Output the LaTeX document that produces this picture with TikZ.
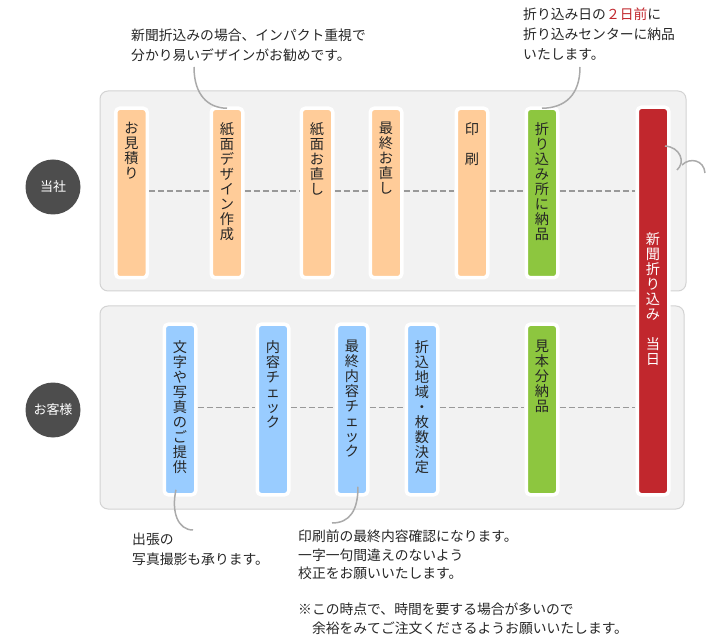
\documentclass[tikz,border=0pt]{standalone}
\usepackage{fontspec}
\setmainfont{Noto Sans CJK JP}
\definecolor{panelfill}{HTML}{F2F2F2}
\definecolor{panelline}{HTML}{D3D3D3}
\definecolor{orangebox}{HTML}{FFCC99}
\definecolor{bluebox}{HTML}{99CCFF}
\definecolor{greenbox}{HTML}{8DC63F}
\definecolor{redbox}{HTML}{C1272D}
\definecolor{circ}{HTML}{4D4D4D}
\definecolor{dashc}{HTML}{999999}
\definecolor{curvec}{HTML}{AAAAAA}
\definecolor{txt}{HTML}{262626}
\begin{document}
\begin{tikzpicture}[x=1pt,y=-1pt,
  panel/.style={fill=panelfill, draw=panelline, line width=1pt, rounded corners=8pt},
  stepbox/.style={rectangle, rounded corners=4pt, draw=white, line width=3.5pt, minimum width=31.5pt, inner sep=0pt, outer sep=0pt},
  topbox/.style={stepbox, minimum height=169.5pt},
  botbox/.style={stepbox, minimum height=170.5pt},
  vlabel/.style={anchor=north, inner sep=0pt, align=center, text=txt, font=\fontsize{14.2}{15}\selectfont},
  note/.style={anchor=north west, inner sep=0pt, align=left, text=txt, font=\fontsize{13.8}{20}\selectfont},
  dashline/.style={draw=dashc, line width=1.6pt, dash pattern=on 6pt off 3pt},
  callout/.style={draw=curvec, line width=1.5pt},
  party/.style={circle, fill=circ, minimum size=55pt, inner sep=0pt, text=white, font=\fontsize{13}{13}\selectfont}
]
\useasboundingbox (0,0) rectangle (715,644);
% panels
\draw[panel] (100,91) rectangle (686,291);
\draw[panel] (100,306) rectangle (684,509);

% top boxes
\node[topbox, fill=orangebox] (b1) at (131.5,193) {};
\node[topbox, fill=orangebox] (b2) at (227,193) {};
\node[topbox, fill=orangebox] (b3) at (317,193) {};
\node[topbox, fill=orangebox] (b4) at (386,193) {};
\node[topbox, fill=orangebox] (b5) at (472,193) {};
\node[topbox, fill=greenbox] (b6) at (542,193) {};
% bottom boxes
\node[botbox, fill=bluebox] (c1) at (180,409.5) {};
\node[botbox, fill=bluebox] (c2) at (273,409.5) {};
\node[botbox, fill=bluebox] (c3) at (352,409.5) {};
\node[botbox, fill=bluebox] (c4) at (422,409.5) {};
\node[botbox, fill=greenbox] (c5) at (542,409.5) {};
% red box
\node[stepbox, fill=redbox, minimum height=387.5pt] (red) at (653,301) {};

% dashed connectors
\foreach \a/\b in {b1/b2,b2/b3,b3/b4,b4/b5,b5/b6,c1/c2,c2/c3,c3/c4,c4/c5}{
  \draw[dashline] ([yshift=2pt,xshift=2pt]\a.east) -- ([yshift=2pt,xshift=-2pt]\b.west);
}
\draw[dashline] ([yshift=2pt,xshift=2pt]b6.east) -- ([yshift=2pt,xshift=-2pt]b6.east -| red.west);
\draw[dashline] ([yshift=2pt,xshift=2pt]c5.east) -- ([yshift=2pt,xshift=-2pt]c5.east -| red.west);

% labels in boxes
\node[vlabel] (b1t) at ([yshift=-13.75pt]b1.north) {お\\見\\積\\り};
\node[vlabel] (b2t) at ([yshift=-13.75pt]b2.north) {紙\\面\\デ\\ザ\\イ\\ン\\作\\成};
\node[vlabel] (b3t) at ([yshift=-13.75pt]b3.north) {紙\\面\\お\\直\\し};
\node[vlabel] (b4t) at ([yshift=-13.75pt]b4.north) {最\\終\\お\\直\\し};
\node[vlabel] (b5t) at ([yshift=-13.75pt]b5.north) {印\\　\\刷};
\node[vlabel] (b6t) at ([yshift=-13.75pt]b6.north) {折\\り\\込\\み\\所\\に\\納\\品};
\node[vlabel, text=white] (redt) at ([yshift=-125pt]red.north) {新\\聞\\折\\り\\込\\み\\　\\当\\日};
\node[vlabel] (c1t) at ([yshift=-15.75pt]c1.north) {文\\字\\や\\写\\真\\の\\ご\\提\\供};
\node[vlabel] (c2t) at ([yshift=-15.75pt]c2.north) {内\\容\\チ\\ェ\\ッ\\ク};
\node[vlabel] (c3t) at ([yshift=-15.75pt]c3.north) {最\\終\\内\\容\\チ\\ェ\\ッ\\ク};
\node[vlabel] (c4t) at ([yshift=-15.75pt]c4.north) {折\\込\\地\\域\\・\\枚\\数\\決\\定};
\node[vlabel] (c5t) at ([yshift=-15.75pt]c5.north) {見\\本\\分\\納\\品};

% parties
\node[party] (us) at (53,187) {当社};
\node[party] (client) at (53,410) {お客様};

% notes
\node[note] (n1) at (131,29) {新聞折込みの場合、インパクト重視で\\分かり易いデザインがお勧めです。};
\node[note] (n2) at (523,8) {折り込み日の{\color{redbox}２日前}に\\折り込みセンターに納品\\いたします。};
\node[note] (n3) at (132,533) {出張の\\写真撮影も承ります。};
\node[note, font=\fontsize{13.8}{18.5}\selectfont] (n4) at (298,530) {印刷前の最終内容確認になります。\\一字一句間違えのないよう\\校正をお願いいたします。};
\node[note, font=\fontsize{13.8}{18.5}\selectfont] (n5) at (298,603) {※この時点で、時間を要する場合が多いので\\　余裕をみてご注文くださるようお願いいたします。};

% callouts
\coordinate (k1) at (194,67);
\coordinate (k2) at (580,67);
\coordinate (k3) at (193,530);
\coordinate (k4) at (332,523);
\draw[callout] (k1) .. controls (194,95) and (208,108) .. (b2.north);
\draw[callout] (k2) .. controls (580,95) and (565,108) .. (b6.north);
\draw[callout] ([xshift=-4pt,yshift=5pt]c1.south) .. controls (171,512) and (178,530) .. (k3);
\draw[callout] ([xshift=6pt,yshift=8pt]c3.south) .. controls (358,510) and (350,523) .. (k4);
% stray arcs at the right of the red box
\coordinate (r1) at (665,146);
\coordinate (r2) at (677,170);
\coordinate (r3) at (682,165);
\coordinate (r4) at (705,173);
\draw[callout] (r1) .. controls (680,147) and (686,162) .. (r2);
\draw[callout] (r3) .. controls (690,157) and (704,160) .. (r4);
\end{tikzpicture}
\end{document}
